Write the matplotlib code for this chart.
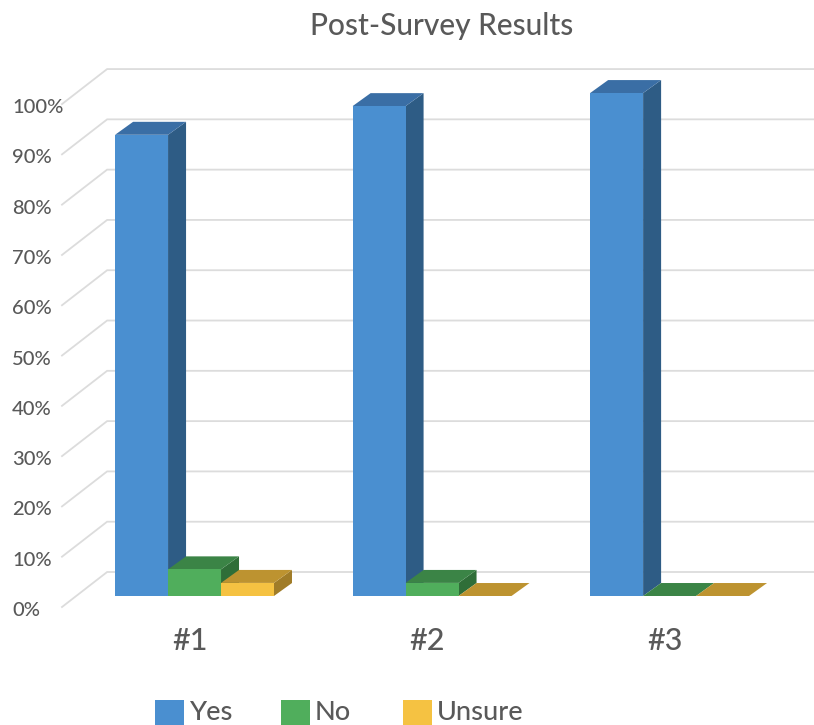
import matplotlib.pyplot as plt
from matplotlib.patches import Polygon, Rectangle

plt.rcParams["font.family"] = ["Lato", "DejaVu Sans"]
plt.rcParams["font.weight"] = "medium"

categories = ["#1", "#2", "#3"]
series = ["Yes", "No", "Unsure"]
yes = [91.7, 97.4, 100.0]
no = [5.3, 2.6, 0.0]
unsure = [2.6, 0.0, 0.0]
ticks = list(range(0, 101, 10))

# front / top / side shades for each series
shades = {
    "Yes": ("#4a8fd0", "#3a6ea5", "#2e5c85"),
    "No": ("#50ae5c", "#3b8446", "#2f6e38"),
    "Unsure": ("#f5c242", "#bd9330", "#a07c28"),
}
text_color = "#595959"
grid_color = "#dcdcdc"

bar_w = 0.223
dx, dy = 0.0758, 2.58  # oblique offset of one bar depth


def bar3d(ax, x0, h, colors):
    front, top, side = colors
    ax.add_patch(Polygon([(x0 + bar_w, 0), (x0 + bar_w + dx, dy),
                          (x0 + bar_w + dx, h + dy), (x0 + bar_w, h)],
                         closed=True, fc=side, ec="none"))
    ax.add_patch(Polygon([(x0, h), (x0 + bar_w, h),
                          (x0 + bar_w + dx, h + dy), (x0 + dx, h + dy)],
                         closed=True, fc=top, ec="none"))
    if h > 0:
        ax.add_patch(Rectangle((x0, 0), bar_w, h, fc=front, ec="none"))


fig = plt.figure(figsize=(8.14, 7.25), dpi=100)
ax = fig.add_axes([0, 0, 1, 1])
ax.set_xlim(-0.819, 2.608)
ax.set_ylim(-25.65, 118.5)
ax.axis("off")

# back wall gridlines with the slanted side edge
x_front, x_back, x_end = -0.558, -0.368, 2.62
for v in ticks:
    ax.plot([x_front, x_back, x_end], [v - 2.19, v + 4.77, v + 4.77],
            color=grid_color, lw=1.3, solid_joinstyle="miter", zorder=0)
    ax.text(-0.768, v - 2.9, f"{v}%", ha="left", va="center",
            fontsize=14.5, color=text_color)

values = {"Yes": yes, "No": no, "Unsure": unsure}
for i, cat in enumerate(categories):
    for j, name in enumerate(series):
        x0 = i + (j - 1.5) * bar_w
        bar3d(ax, x0, values[name][i], shades[name])
    ax.text(i - 0.02, -8.9, cat, ha="center", va="center",
            fontsize=22, color=text_color)

fig.text(442 / 814, 1 - 26 / 725, "Post-Survey Results", ha="center",
         va="center", fontsize=21.5, color=text_color)

# legend along the bottom edge
legend_x = [155, 281, 403]
for name, lx in zip(series, legend_x):
    fig.patches.append(Rectangle((lx / 814, (725 - 729) / 725), 29 / 814,
                                 29 / 725, transform=fig.transFigure,
                                 fc=shades[name][0], ec="none"))
    fig.text((lx + 34) / 814, (725 - 712) / 725, name, ha="left",
             va="center", fontsize=19.5, color=text_color)

fig.savefig("out.png", dpi=100)
